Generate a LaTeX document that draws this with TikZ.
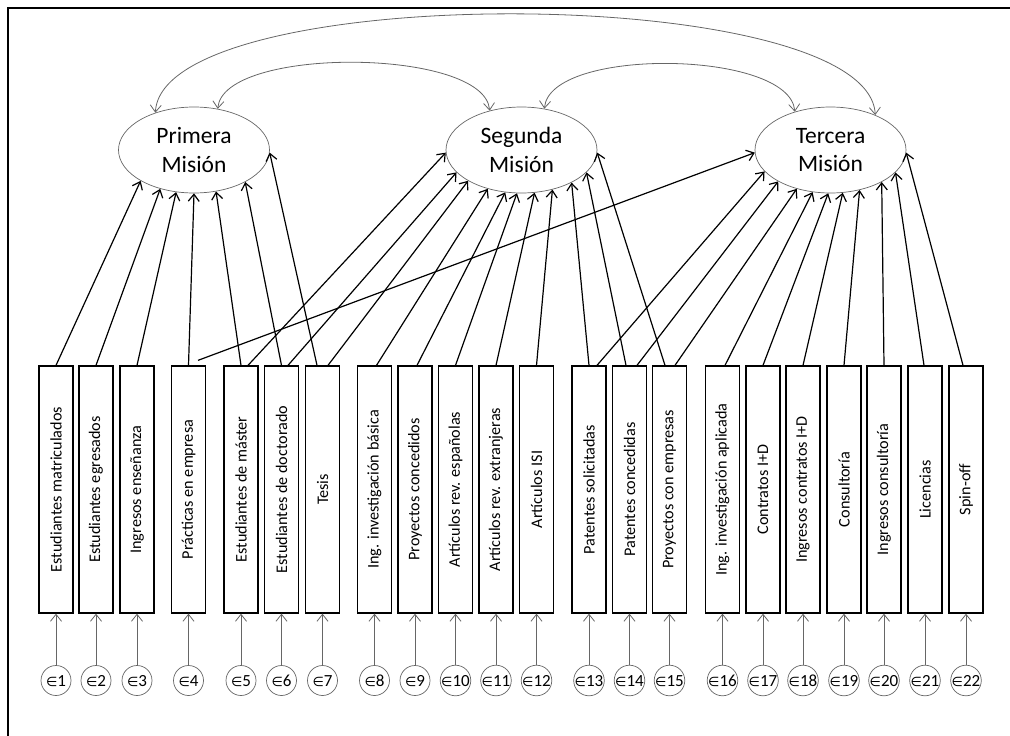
\documentclass[tikz,border=0pt]{standalone}
\usepackage{fontspec}
\setmainfont{Carlito}
\newfontfamily\symfont{DejaVu Sans}
\usetikzlibrary{arrows.meta,shapes.geometric}
\begin{document}
\begin{tikzpicture}[x=1pt,y=-1pt,
  lat/.style={ellipse,draw=black!60,line width=0.7pt,minimum width=151pt,minimum height=86pt,inner sep=0pt,align=center,font=\fontsize{23.5}{28.5}\selectfont},
  obs/.style={rectangle,draw=black,line width=1.3pt,minimum width=34pt,minimum height=247pt,inner sep=0pt},
  obstext/.style={rotate=90,inner sep=0pt,font=\fontsize{16.2}{20}\selectfont},
  err/.style={circle,draw=black!60,line width=0.7pt,minimum size=30pt,inner sep=0pt,text height=11pt,text depth=0pt,font=\fontsize{17}{20}\selectfont},
  load/.style={line width=1.2pt,-{Straight Barb[length=7pt,width=11pt]}},
  errarr/.style={draw=black!60,line width=0.8pt,-{Straight Barb[length=7pt,width=11pt]}},
  cov/.style={draw=black!60,line width=0.8pt,{Straight Barb[length=7pt,width=11pt]}-{Straight Barb[length=7pt,width=11pt]}},
  frame/.style={line width=2.7pt}]
\useasboundingbox (0,0) rectangle (1010,736);
\draw[frame] (8,740) -- (8,8) -- (1014,8);

\node[lat] (P) at (194,150) {Primera\\Misión};
\node[lat] (S) at (521.5,150) {Segunda\\Misión};
\node[lat] (T) at (830.5,150) {Tercera\\Misión};

\foreach \i/\x/\t in {1/56/Estudiantes matriculados,2/96/Estudiantes egresados,3/137/Ingresos enseñanza,4/188.5/Prácticas en empresa,5/241/Estudiantes de máster,6/281.5/Estudiantes de doctorado,7/322.5/Tesis,8/374.5/Ing. investigación básica,9/415/Proyectos concedidos,10/455.5/Artículos rev. españolas,11/496/Artículos rev. extranjeras,12/536.5/Artículos ISI,13/589/Patentes solicitadas,14/629.5/Patentes concedidas,15/669.5/Proyectos con empresas,16/722.5/Ing. investigación aplicada,17/763/Contratos I+D,18/803/Ingresos contratos I+D,19/844/Consultoría,20/884/Ingresos consultoría,21/925/Licencias,22/966/Spin-off}{
  \node[obs] (b\i) at (\x,489.5) {};
  \node[obstext] (t\i) at (b\i.center) {\t};
  \node[err] (e\i) at (\x,680.5) {{\symfont\fontsize{13}{15}\selectfont ∈}\i};
  \draw[errarr] (e\i.north) -- (b\i.south);
}

% Primera
\draw[load] (b1.north) -- (P.210);
\draw[load] (b2.north) -- (P.229);
\draw[load] (b3.north) -- (P.247);
\draw[load] (b4.north) -- (P.270);
\draw[load] (b5.north) -- (P.298);
\draw[load] (b6.north) -- (P.328);
\draw[load] ([xshift=-5.5pt]b7.north) -- (P.358);
% Segunda
\draw[load] ([xshift=7pt]b5.north) -- (S.182);
\draw[load] ([xshift=6.5pt]b6.north) -- (S.199);
\draw[load] ([xshift=5.5pt]b7.north) -- (S.210);
\draw[load] ([xshift=2pt]b8.north) -- (S.229);
\draw[load] ([xshift=2pt]b9.north) -- (S.249);
\draw[load] (b10.north) -- (S.264);
\draw[load] (b11.north) -- (S.287);
\draw[load] (b12.north) -- (S.308);
\draw[load] (b13.north) -- (S.327);
\draw[load] ([xshift=-3.5pt]b14.north) -- (S.341);
\draw[load] ([xshift=-4.5pt]b15.north) -- (S.358);
% Tercera
\draw[load] ([xshift=9.5pt,yshift=5pt]b4.north) -- (T.182);
\draw[load] ([xshift=8pt]b13.north) -- (T.198);
\draw[load] ([xshift=7.5pt]b14.north) -- (T.211);
\draw[load] ([xshift=5.5pt]b15.north) -- (T.229);
\draw[load] ([xshift=2.5pt]b16.north) -- (T.247);
\draw[load] (b17.north) -- (T.267);
\draw[load] (b18.north) -- (T.286);
\draw[load] (b19.north) -- (T.306);
\draw[load] (b20.north) -- (T.328);
\draw[load] ([xshift=-1pt]b21.north) -- (T.341);
\draw[load] ([xshift=-3pt]b22.north) -- (T.358);

% covariances
\draw[cov] (P.136) .. controls +(7,-133) and +(-7,-133) .. (T.38);
\draw[cov] (P.60) .. controls +(5,-63) and +(-5,-63) .. (S.129);
\draw[cov] (S.61) .. controls +(5,-62) and +(-5,-62) .. (T.133);
\end{tikzpicture}
\end{document}
